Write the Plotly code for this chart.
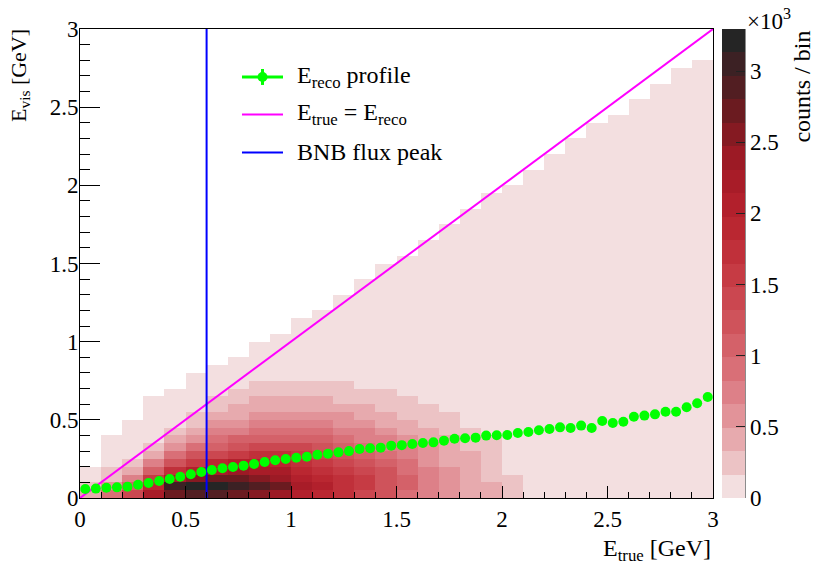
import plotly.graph_objects as go

FONT = "'Liberation Serif', 'Times New Roman', serif"

# ---------------- data ----------------
# 2D histogram, coarse bins: x bins 0.1 GeV wide, y bins 0.05 GeV tall
x_bin_centers = [round(0.05 + 0.1 * i, 3) for i in range(30)]
y_bin_centers = [round(0.025 + 0.05 * j, 3) for j in range(60)]

# counts per bin in the dense low-E_vis region (columns x=0-0.1 ... 2.0-2.1,
# each list runs upward over y = 0 ... 0.8 GeV); 0 = background level
dense_counts = [
    [410, 250, 0, 0, 0, 0, 0, 0, 0, 0, 0, 0, 0, 0, 0, 0],
    [910, 580, 250, 250, 0, 0, 0, 0, 0, 0, 0, 0, 0, 0, 0, 0],
    [1400, 1070, 740, 410, 250, 0, 0, 0, 0, 0, 0, 0, 0, 0, 0, 0],
    [2230, 1900, 1570, 1070, 740, 410, 250, 0, 0, 0, 0, 0, 0, 0, 0, 0],
    [2720, 3050, 2230, 1730, 1240, 910, 580, 410, 250, 0, 0, 0, 0, 0, 0, 0],
    [2890, 3220, 2560, 2060, 1570, 1240, 910, 580, 410, 250, 250, 0, 0, 0, 0, 0],
    [2890, 3220, 2720, 2230, 1900, 1400, 1070, 910, 740, 580, 410, 250, 250, 0, 0, 0],
    [2720, 3050, 2720, 2390, 2060, 1570, 1240, 1070, 740, 580, 410, 410, 250, 250, 0, 0],
    [2560, 2890, 2560, 2230, 2060, 1730, 1400, 1070, 910, 740, 580, 410, 410, 250, 250, 0],
    [2390, 2720, 2390, 2230, 1900, 1730, 1400, 1070, 910, 740, 580, 410, 410, 250, 250, 0],
    [2060, 2230, 2060, 1900, 1730, 1570, 1400, 1070, 910, 740, 580, 410, 410, 250, 250, 0],
    [1900, 2060, 1900, 1730, 1570, 1400, 1240, 1070, 910, 740, 580, 410, 410, 250, 250, 0],
    [1730, 1730, 1730, 1570, 1400, 1240, 1070, 910, 740, 580, 580, 410, 250, 250, 250, 0],
    [1400, 1570, 1570, 1400, 1240, 1070, 910, 740, 740, 580, 410, 410, 250, 250, 0, 0],
    [1240, 1240, 1240, 1240, 1070, 910, 740, 740, 580, 410, 410, 250, 250, 250, 0, 0],
    [910, 1070, 1070, 910, 910, 740, 740, 580, 410, 410, 250, 250, 250, 0, 0, 0],
    [740, 740, 740, 740, 580, 580, 580, 410, 410, 250, 250, 250, 0, 0, 0, 0],
    [580, 580, 580, 580, 410, 410, 410, 410, 250, 250, 250, 0, 0, 0, 0, 0],
    [410, 410, 410, 410, 410, 410, 250, 250, 250, 0, 0, 0, 0, 0, 0, 0],
    [410, 410, 250, 250, 250, 250, 250, 250, 0, 0, 0, 0, 0, 0, 0, 0],
    [250, 250, 250, 0, 0, 0, 0, 0, 0, 0, 0, 0, 0, 0, 0, 0],
]
background_counts = 80  # sparse populated bins (lowest colour level)
# upper E_vis edge of the populated region for each 0.1 GeV x column
populated_top = [0.22, 0.42, 0.52, 0.63, 0.71, 0.80, 0.86, 0.92, 1.01, 1.07,
                 1.14, 1.22, 1.30, 1.40, 1.48, 1.57, 1.66, 1.74, 1.84, 1.95,
                 2.02, 2.12, 2.20, 2.30, 2.38, 2.46, 2.56, 2.64, 2.74, 2.82]

# E_reco profile
profile_x = [round(0.025 + 0.05 * i, 3) for i in range(60)]
profile_y = [0.058, 0.060, 0.066, 0.068, 0.072, 0.085, 0.096, 0.109, 0.122, 0.136,
             0.152, 0.166, 0.179, 0.190, 0.198, 0.207, 0.218, 0.230, 0.241, 0.250,
             0.258, 0.264, 0.277, 0.283, 0.292, 0.300, 0.313, 0.318, 0.322, 0.335,
             0.338, 0.345, 0.352, 0.356, 0.367, 0.379, 0.382, 0.386, 0.399, 0.401,
             0.403, 0.416, 0.422, 0.433, 0.441, 0.452, 0.448, 0.463, 0.448, 0.493,
             0.480, 0.488, 0.520, 0.527, 0.535, 0.552, 0.552, 0.580, 0.606, 0.646]

diag_x = [0, 3]
diag_y = [0, 3]
flux_peak = 0.6

legend_labels = ["E<sub>reco</sub> profile", "E<sub>true</sub> = E<sub>reco</sub>", "BNB flux peak"]
legend_colors = ["#00ff00", "#ff00ff", "#0000ff"]

cbar_max = 3296
cbar_tickvals = [0, 500, 1000, 1500, 2000, 2500, 3000]
cbar_ticktext = ["0", "0.5", "1", "1.5", "2", "2.5", "3"]

palette = ["#f3dfe0", "#ecc3c5", "#e7aaae", "#e29399", "#dd8088", "#d96f77",
           "#d46169", "#cf535b", "#cb4750", "#c63b44", "#c0303a", "#ba2731",
           "#b2202c", "#a81c28", "#9c1a25", "#851a22", "#6b1b20", "#521e22",
           "#3c2124", "#252525"]

# ---------------- build figure ----------------
z = []
for j, yc in enumerate(y_bin_centers):
    row = []
    for i in range(len(x_bin_centers)):
        v = dense_counts[i][j] if (i < len(dense_counts) and j < 16) else 0
        if v == 0:
            v = background_counts if yc < populated_top[i] else None
        row.append(v)
    z.append(row)

n = len(palette)
colorscale = []
for k, c in enumerate(palette):
    colorscale.append([k / n, c])
    colorscale.append([(k + 1) / n, c])

fig = go.Figure()
fig.add_trace(go.Heatmap(
    x=x_bin_centers, y=y_bin_centers, z=z, zmin=0, zmax=cbar_max,
    colorscale=colorscale, showscale=True, hoverongaps=False,
    showlegend=False,
    colorbar=dict(
        x=1.0142, xanchor="left", xref="paper", xpad=0,
        y=0.5, yanchor="middle", len=1, lenmode="fraction", ypad=0,
        thickness=23, outlinewidth=0,
        tickvals=cbar_tickvals, ticktext=cbar_ticktext,
        ticks="inside", ticklen=9, tickcolor="#222", tickwidth=1,
        tickfont=dict(family=FONT, size=23, color="black"),
    ),
))
fig.add_trace(go.Scatter(
    x=diag_x, y=diag_y, mode="lines", showlegend=False,
    line=dict(color=legend_colors[1], width=2),
))
fig.add_trace(go.Scatter(
    x=[flux_peak, flux_peak], y=[0, 3], mode="lines", showlegend=False,
    line=dict(color=legend_colors[2], width=2),
))
fig.add_trace(go.Scatter(
    x=profile_x, y=profile_y, mode="markers",
    marker=dict(color=legend_colors[0], size=10), showlegend=False,
))

axis_common = dict(
    range=[0, 3], showgrid=False, zeroline=False,
    showline=True, linecolor="black", linewidth=1, mirror=True,
    ticks="inside", tickcolor="black", tickwidth=1,
    dtick=0.5, tick0=0,
    tickfont=dict(family=FONT, size=23, color="black"),
)
fig.update_xaxes(**axis_common, ticklen=12,
                 minor=dict(ticks="inside", ticklen=6, dtick=0.1, tickcolor="black", showgrid=False))
fig.update_yaxes(**axis_common, ticklen=20, ticklabelstandoff=-4,
                 minor=dict(ticks="inside", ticklen=10, dtick=0.1, tickcolor="black", showgrid=False))

overlay_common = dict(
    range=[0, 3], showgrid=False, zeroline=False, showline=False,
    ticks="inside", tickcolor="black", tickwidth=1, dtick=0.5, tick0=0,
    showticklabels=False,
)

# ---- legend drawn in paper coordinates (ROOT TLegend look) ----
row_y = [0.8977, 0.8177, 0.7367]
sym_x0, sym_x1, txt_x = 0.2559, 0.3207, 0.3397
shapes = []
annotations = []
for k, (lab, col) in enumerate(zip(legend_labels, legend_colors)):
    shapes.append(dict(type="line", xref="paper", yref="paper",
                       x0=sym_x0, x1=sym_x1, y0=row_y[k], y1=row_y[k],
                       line=dict(color=col, width=3 if k == 0 else 2)))
    annotations.append(dict(text=lab, xref="paper", yref="paper",
                            x=txt_x, y=row_y[k], xanchor="left", yanchor="middle",
                            showarrow=False, font=dict(family=FONT, size=24)))
xm = (sym_x0 + sym_x1) / 2
shapes.append(dict(type="line", xref="paper", yref="paper",
                   x0=xm, x1=xm, y0=row_y[0] - 0.017, y1=row_y[0] + 0.017,
                   line=dict(color=legend_colors[0], width=3)))
shapes.append(dict(type="circle", xref="paper", yref="paper",
                   x0=xm - 0.0079, x1=xm + 0.0079, y0=row_y[0] - 0.0107, y1=row_y[0] + 0.0107,
                   fillcolor=legend_colors[0], line=dict(width=0)))
shapes.append(dict(type="line", xref="paper", yref="paper",
                   x0=1.0506, x1=1.0506, y0=0, y1=1,
                   line=dict(color="#222", width=1)))

annotations += [
    dict(text="E<sub>true</sub> [GeV]", xref="paper", yref="paper",
         x=1.0, y=-0.075, xanchor="right", yanchor="top", showarrow=False,
         font=dict(family=FONT, size=24)),
    dict(text="E<sub>vis</sub> [GeV]", xref="paper", yref="paper",
         x=-0.095, y=1.005, xanchor="center", yanchor="top", textangle=-90,
         showarrow=False, font=dict(family=FONT, size=22)),
    dict(text="counts / bin", xref="paper", yref="paper",
         x=1.14, y=1.0, xanchor="center", yanchor="top", textangle=-90,
         showarrow=False, font=dict(family=FONT, size=24)),
    dict(text="×10<sup>3</sup>", xref="paper", yref="paper",
         x=1.05, y=0.985, xanchor="left", yanchor="bottom",
         showarrow=False, font=dict(family=FONT, size=23)),
]

fig.update_layout(
    width=830, height=567,
    margin=dict(l=80, r=117, t=29, b=69),
    paper_bgcolor="white", plot_bgcolor="white",
    font=dict(family=FONT, size=23, color="black"),
    showlegend=False,
    xaxis2=dict(**overlay_common, overlaying="x", side="top", anchor="y", ticklen=12,
                minor=dict(ticks="inside", ticklen=6, dtick=0.1, tickcolor="black", showgrid=False)),
    yaxis2=dict(**overlay_common, overlaying="y", side="right", anchor="x", ticklen=20,
                minor=dict(ticks="inside", ticklen=10, dtick=0.1, tickcolor="black", showgrid=False)),
    annotations=annotations,
    shapes=shapes,
)

fig.write_html("out.html", config={"displayModeBar": False},
               post_script="document.body.style.margin='0';document.body.style.padding='0';")
